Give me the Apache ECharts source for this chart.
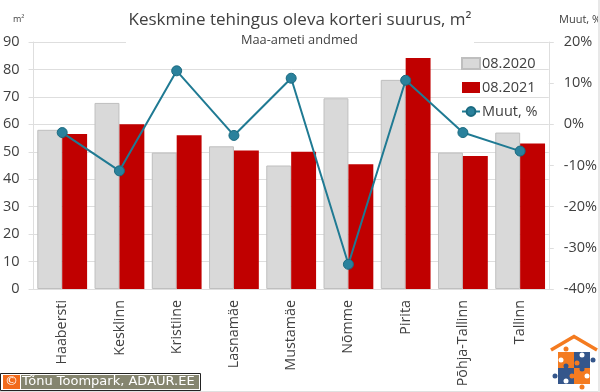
<!DOCTYPE html>
<html><head><meta charset="utf-8">
<script src="https://cdn.jsdelivr.net/npm/echarts@6/dist/echarts.min.js"></script>
<style>html,body{margin:0;padding:0;background:#fff}#c{width:600px;height:392px}</style>
</head><body><div id="c"></div>
<script>
const categories=["Haabersti","Kesklinn","Kristiine","Lasnamäe","Mustamäe","Nõmme","Pirita","Põhja-Tallinn","Tallinn"];
const y2020=[58,67.8,49.7,52,45,69.5,76.2,49.7,57];
const y2021=[56.5,60,56,50.5,50,45.5,84.2,48.5,53];
const change=[-2,-11.3,13,-2.7,11.2,-34,10.7,-2,-6.5];
const font='"Open Sans","Noto Sans",sans-serif';
const txt='#404040';
const orange='#f47b20',navy='#34568b';
const dot=(x,y,r,c)=>({type:'circle',shape:{cx:x,cy:y,r:r},style:{fill:c},z:21});
const sq=(x,y,c)=>({type:'rect',shape:{x:x,y:y,width:16,height:16},style:{fill:c},z:20});
const chart=echarts.init(document.getElementById('c'),null,{renderer:'canvas'});
chart.setOption({
 animation:false,
 backgroundColor:'#fff',
 title:[
  {text:'Keskmine tehingus oleva korteri suurus, m²',left:295,top:7,textAlign:'center',textStyle:{fontFamily:font,fontSize:17,fontWeight:'normal',color:txt}},
  {text:'Maa-ameti andmed',left:236,top:29,textStyle:{fontFamily:font,fontSize:12.8,fontWeight:'normal',color:txt}},
  {text:'m²',left:8,top:10,textStyle:{fontFamily:font,fontSize:9,fontWeight:'normal',color:txt}},
  {text:'Muut, %',left:554,top:9,textStyle:{fontFamily:font,fontSize:11,fontWeight:'normal',color:txt}}
 ],
 legend:{show:true,orient:'vertical',left:456,top:51,itemWidth:18,itemHeight:11,itemGap:9,
  textStyle:{fontFamily:font,fontSize:14.5,color:txt,padding:[0,0,0,-3]},
  data:[{name:'08.2020',icon:'rect'},{name:'08.2021',icon:'rect'},{name:'Muut, %'}]},
 grid:{left:33,right:50,top:42,bottom:103},
 xAxis:{type:'category',data:categories,
  axisLine:{lineStyle:{color:'#dedede'}},axisTick:{show:false},
  axisLabel:{rotate:90,interval:0,fontFamily:font,fontSize:14.3,color:txt,margin:11}},
 yAxis:[
  {type:'value',min:0,max:90,interval:10,
   axisLine:{show:true,lineStyle:{color:'#dedede'}},axisTick:{show:true,length:5,lineStyle:{color:'#dedede'}},
   splitLine:{lineStyle:{color:'#dedede'}},
   axisLabel:{fontFamily:font,fontSize:14.5,color:txt,margin:14}},
  {type:'value',min:-40,max:20,interval:10,
   axisLine:{show:true,lineStyle:{color:'#dedede'}},axisTick:{show:true,length:5,lineStyle:{color:'#dedede'}},
   splitLine:{show:false},
   axisLabel:{fontFamily:font,fontSize:14.5,color:txt,margin:15,formatter:'{value}%'}}
 ],
 series:[
  {name:'08.2020',type:'bar',data:y2020,barGap:'0%',barCategoryGap:'13%',itemStyle:{color:'#d9d9d9',borderColor:'#bfbfbf',borderWidth:1}},
  {name:'08.2021',type:'bar',data:y2021,itemStyle:{color:'#c00000'}},
  {name:'Muut, %',type:'line',yAxisIndex:1,data:change,symbol:'circle',symbolSize:10,
   lineStyle:{color:'#1f7a93',width:2},itemStyle:{color:'#2a819c',borderColor:'#1a6a80',borderWidth:1},z:5}
 ],
 graphic:[
  {type:'rect',shape:{x:126,y:38,width:348,height:8},style:{fill:'#fff'},z:1},
  {type:'rect',shape:{x:0.5,y:373.5,width:200,height:17},style:{fill:'#fff',stroke:'#222',lineWidth:1},z:20},
  {type:'rect',shape:{x:3,y:375,width:17,height:14},style:{fill:'#f26a1b'},z:21},
  {type:'rect',shape:{x:21,y:375,width:178,height:14},style:{fill:'#85856f'},z:21},
  {type:'text',style:{x:11.5,y:382,text:'©',fill:'#fff',font:'13px "DejaVu Sans"',textAlign:'center',textVerticalAlign:'middle'},z:22},
  {type:'text',style:{x:22,y:382,text:'Tõnu Toompark, ADAUR.EE',fill:'#fff',font:'13px "DejaVu Sans"',textVerticalAlign:'middle'},z:22},
  {type:'polyline',shape:{points:[[551,350],[574,336.5],[597,350]]},style:{stroke:orange,lineWidth:3.5,fill:null},z:20},
  sq(558,352,orange),sq(574,352,navy),sq(558,368,navy),sq(574,368,orange),
  dot(566,349,2.5,orange),dot(593,360,2.5,navy),dot(555,376,2.5,navy),dot(582,387,2.5,orange),
  dot(582,355,2.5,'#fff'),dot(587,376,2.5,'#fff'),dot(566,381,2.5,'#fff'),dot(561,360,2.5,'#fff'),
  dot(566,366,2.5,navy),dot(582,369,2.5,navy),dot(572,376,2.5,orange),dot(577,363,2.5,orange),
  {type:'rect',shape:{x:0,y:391,width:600,height:1},style:{fill:'#e0e0e0'},z:20},
  {type:'rect',shape:{x:598,y:0,width:2,height:392},style:{fill:'#e8e8e8'},z:20}
 ]
});
</script></body></html>
